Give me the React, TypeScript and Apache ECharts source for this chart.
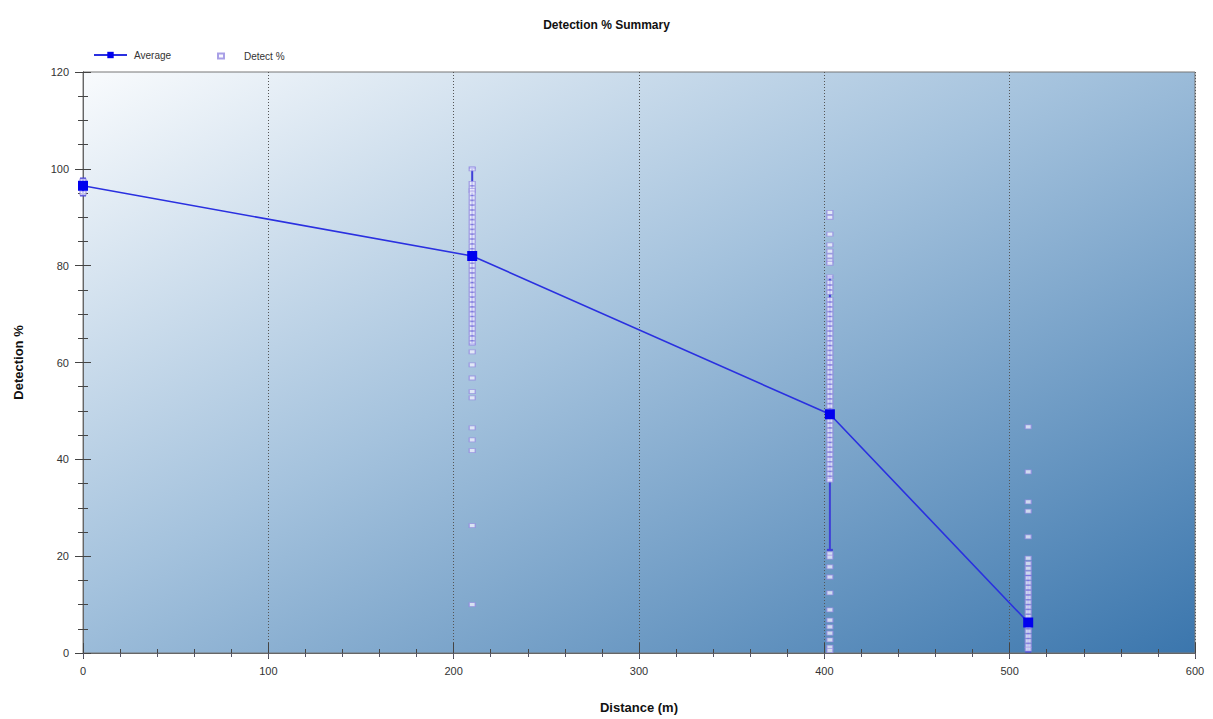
import React, { useEffect, useRef } from "react";
import * as echarts from "echarts";

const distances = [0, 210, 403, 510];
const averages = [96.5, 82, 49.3, 6.3];
const errLow = [94.5, 63.8, 21.3, 0.3];
const errHigh = [98, 100.2, 77.7, 16];

const detect0 = [97.5, 96.5, 95];
const detect210 = [100, 97, 96, 95.5, 95, 94, 93, 92, 91, 90, 89, 88, 87, 86, 85, 84, 83, 82, 81, 80, 79, 78, 77, 76, 75, 74, 73, 72, 71, 70, 69, 68, 67, 66, 65, 64, 62.2, 59.5, 56.8, 54, 52.7, 46.5, 44, 41.8, 26.3, 10];
const detect403 = [91, 90, 86.5, 84.3, 83, 82, 81, 80.5, 77.7, 76.5, 75.5, 74.5, 73, 72, 71, 70, 69, 68, 67, 66, 65, 64, 63, 62, 61, 60, 59, 58, 57, 56, 55, 54, 53, 52, 51, 50, 49, 48, 47, 46, 45, 44, 43, 42, 41, 40, 39, 38, 37, 36, 35.7, 20.5, 19.8, 17.8, 15.7, 12.4, 8.9, 6.8, 5.4, 4.1, 2.7, 1.2, 0.5];
const detect510 = [46.7, 37.4, 31.2, 29.3, 24, 19.6, 18.5, 17.5, 16.5, 15.5, 14.5, 13.5, 12.5, 11.5, 10.5, 9.5, 8.5, 7.5, 6.5, 5.5, 4.5, 3.5, 2.5, 1.5, 0.8];

const detectGroups: [number, number[]][] = [
  [distances[0], detect0],
  [distances[1], detect210],
  [distances[2], detect403],
  [distances[3], detect510],
];

export default function App() {
  const ref = useRef<HTMLDivElement>(null);
  useEffect(() => {
    if (!ref.current) return;
    const chart = echarts.init(ref.current, undefined, { renderer: "svg" });
    const scatterData: number[][] = [];
    detectGroups.forEach(([x, vals]) => vals.forEach((v) => scatterData.push([x, v])));
    const lineData = distances.map((d, i) => [d, averages[i]]);
    const errData = distances.map((d, i) => [d, errLow[i], errHigh[i]]);
    const font = "Liberation Sans, Arial, sans-serif";

    chart.setOption({
      animation: false,
      title: {
        text: "Detection % Summary",
        left: "center",
        top: 14,
        textStyle: { fontFamily: font, fontSize: 12, fontWeight: "bold", color: "#111" },
      },
      legend: [
        {
          left: 88,
          top: 45,
          itemWidth: 33,
          itemHeight: 8,
          textStyle: { fontFamily: font, fontSize: 10, color: "#333", padding: [0, 0, 0, 2] },
          data: [{ name: "Average" }],
        },
        {
          left: 212,
          top: 46,
          itemWidth: 6,
          itemHeight: 5,
          textStyle: { fontFamily: font, fontSize: 10, color: "#333", padding: [0, 0, 0, 15] },
          data: [{ name: "Detect %" }],
        },
      ],
      grid: {
        left: 83,
        right: 18,
        top: 72,
        bottom: 66,
        show: true,
        borderColor: "#777",
        borderWidth: 1,
        backgroundColor: new echarts.graphic.LinearGradient(0, 0, 1, 1, [
          { offset: 0, color: "#f9fbfd" },
          { offset: 0.45, color: "#a4c2dd" },
          { offset: 1, color: "#3b76ad" },
        ]),
      },
      xAxis: [
        {
          type: "value",
          min: 0,
          max: 600,
          interval: 100,
          position: "bottom",
          name: "Distance (m)",
          nameLocation: "middle",
          nameGap: 48,
          nameTextStyle: { fontFamily: font, fontSize: 13, fontWeight: "bold", color: "#111" },
          axisLine: { show: true, lineStyle: { color: "#444" } },
          axisTick: { show: true, inside: false, length: 6, lineStyle: { color: "#444" } },
          minorTick: { show: true, splitNumber: 5, length: 4, lineStyle: { color: "#444" } },
          axisLabel: { fontFamily: font, fontSize: 11, color: "#333", margin: 12 },
          splitLine: { show: true, lineStyle: { color: "#555", type: [1, 2], width: 1 } },
        },
        {
          type: "value",
          min: 0,
          max: 600,
          interval: 100,
          position: "bottom",
          axisLine: { show: false },
          axisTick: { show: true, inside: true, length: 10, lineStyle: { color: "#444" } },
          minorTick: { show: true, splitNumber: 5, length: 4, lineStyle: { color: "#444" } },
          axisLabel: { show: false },
          splitLine: { show: false },
        },
        {
          type: "value",
          min: 0,
          max: 600,
          interval: 100,
          position: "top",
          axisLine: { show: true, lineStyle: { color: "#666" } },
          axisTick: { show: true, inside: true, length: 5, lineStyle: { color: "#556" } },
          minorTick: { show: true, splitNumber: 5, length: 4, lineStyle: { color: "#556" } },
          axisLabel: { show: false },
          splitLine: { show: false },
        },
      ],
      yAxis: [
        {
          type: "value",
          min: 0,
          max: 120,
          interval: 20,
          position: "left",
          name: "Detection %",
          nameLocation: "middle",
          nameGap: 58,
          nameTextStyle: { fontFamily: font, fontSize: 13, fontWeight: "bold", color: "#111" },
          axisLine: { show: true, lineStyle: { color: "#444" } },
          axisTick: { show: true, inside: false, length: 8, lineStyle: { color: "#444" } },
          minorTick: { show: true, splitNumber: 4, length: 5, lineStyle: { color: "#444" } },
          axisLabel: { fontFamily: font, fontSize: 11, color: "#333", margin: 14 },
          splitLine: { show: false },
        },
        {
          type: "value",
          min: 0,
          max: 120,
          interval: 20,
          position: "left",
          axisLine: { show: false },
          axisTick: { show: true, inside: true, length: 8, lineStyle: { color: "#444" } },
          minorTick: { show: true, splitNumber: 4, length: 5, lineStyle: { color: "#444" } },
          axisLabel: { show: false },
          splitLine: { show: false },
        },
        {
          type: "value",
          min: 0,
          max: 120,
          interval: 20,
          position: "right",
          axisLine: { show: true, lineStyle: { color: "#666" } },
          axisTick: { show: false },
          axisLabel: { show: false },
          splitLine: { show: false },
        },
      ],
      series: [
        {
          name: "ErrorBars",
          type: "custom",
          z: 1,
          silent: true,
          data: errData,
          renderItem: (params: any, api: any) => {
            const x = api.value(0);
            const lo = api.coord([x, api.value(1)]);
            const hi = api.coord([x, api.value(2)]);
            const cap = 3;
            const style = { stroke: "#3f3fd8", lineWidth: 2 };
            return {
              type: "group",
              children: [
                { type: "line", shape: { x1: lo[0], y1: lo[1], x2: hi[0], y2: hi[1] }, style },
                { type: "line", shape: { x1: lo[0] - cap, y1: lo[1], x2: lo[0] + cap, y2: lo[1] }, style },
                { type: "line", shape: { x1: hi[0] - cap, y1: hi[1], x2: hi[0] + cap, y2: hi[1] }, style },
              ],
            };
          },
        },
        {
          name: "Detect %",
          type: "scatter",
          z: 2,
          symbol: "rect",
          symbolSize: [6, 4],
          itemStyle: { color: "rgba(246,246,255,0.92)", borderColor: "#9488e0", borderWidth: 1 },
          data: scatterData,
        },
        {
          name: "Average",
          type: "line",
          z: 3,
          symbol: "rect",
          symbolSize: 10,
          lineStyle: { color: "#2a30e0", width: 1.6 },
          itemStyle: { color: "#0000ee" },
          data: lineData,
        },
      ],
    });
    return () => chart.dispose();
  }, []);
  return <div ref={ref} style={{ width: 1213, height: 719, position: "absolute", left: 0, top: 0 }} />;
}
